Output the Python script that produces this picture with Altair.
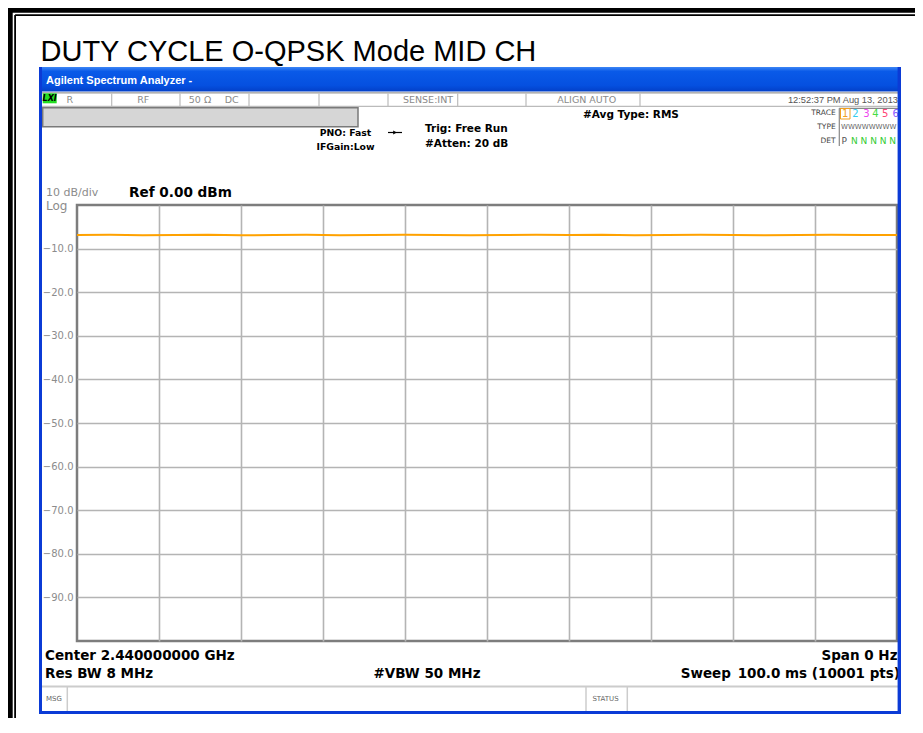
import altair as alt
import pandas as pd

# ---------------- data ----------------
title_text = "DUTY CYCLE O-QPSK Mode MID CH"
window_title = "Agilent Spectrum Analyzer -"
sweep_time_ms = [0, 4, 8, 12, 16, 20, 24, 28, 32, 36, 40, 44, 48, 52, 56, 60,
                 64, 68, 72, 76, 80, 84, 88, 92, 96, 100]
trace_dbm = [-6.9, -6.85, -6.95, -6.9, -6.8, -6.95, -6.9, -6.85, -6.95, -6.9,
             -6.85, -6.9, -6.95, -6.9, -6.85, -6.9, -6.8, -6.95, -6.9, -6.85,
             -6.9, -6.95, -6.9, -6.85, -6.9, -6.9]
y_ticks_dbm = [-10, -20, -30, -40, -50, -60, -70, -80, -90]
x_grid_ms = [10, 20, 30, 40, 50, 60, 70, 80, 90]
status_cells = ["R", "RF", "50 Ω", "DC", "SENSE:INT", "ALIGN AUTO"]
timestamp = "12:52:37 PM Aug 13, 2013"
settings_left = ["PNO: Fast", "IFGain:Low"]
settings_mid = ["Trig: Free Run", "#Atten: 20 dB"]
avg_type = "#Avg Type: RMS"
trace_labels = ["TRACE", "TYPE", "DET"]
trace_nums = ["1", "2", "3", "4", "5", "6"]
trace_num_colors = ["#f0a020", "#33ccee", "#ee44ee", "#44dd44", "#ff4477", "#8855ff"]
trace_type = "WWWWWWWW"
det_first = "P"
det_rest = "N N N N N"
scale_div = "10 dB/div"
scale_log = "Log"
ref_level = "Ref 0.00 dBm"
center_freq = "Center 2.440000000 GHz"
res_bw = "Res BW 8 MHz"
vbw = "#VBW 50 MHz"
span = "Span 0 Hz"
sweep_word = "Sweep"
sweep_val = "100.0 ms (10001 pts)"
msg_label = "MSG"
status_label = "STATUS"

# ---------------- helpers (page coords -> chart coords) ----------------
OX, OY = 77, 205
one = pd.DataFrame({"k": [0]})


def px(x):
    return x - OX


def py(y):
    return y - OY


def text(s, x, y, size=10, color="#000000", font="DejaVu Sans", weight="normal",
         align="left", baseline="alphabetic", style="normal"):
    return alt.Chart(one).mark_text(
        text=s, font=font, fontSize=size, fontWeight=weight, fontStyle=style,
        color=color, align=align, baseline=baseline
    ).encode(x=alt.value(px(x)), y=alt.value(py(y)))


def rect(x1, y1, x2, y2, fill, **kw):
    return alt.Chart(one).mark_rect(fill=fill, **kw).encode(
        x=alt.value(px(x1)), x2=alt.value(px(x2)),
        y=alt.value(py(y1)), y2=alt.value(py(y2)))


def line(x1, y1, x2, y2, color, width=1.0):
    return alt.Chart(one).mark_rule(color=color, strokeWidth=width).encode(
        x=alt.value(px(x1)), x2=alt.value(px(x2)),
        y=alt.value(py(y1)), y2=alt.value(py(y2)))


layers = []

# outer black document frame
layers += [
    rect(8, 8, 12.7, 718, "#000000"),
    rect(8, 8, 915, 12.7, "#000000"),
    line(15.1, 15.1, 15.1, 718, "#000000", 1.8),
    line(15.1, 15.1, 915, 15.1, "#000000", 1.8),
]

# document title
layers.append(text(title_text, 40.5, 61, size=29, font="Liberation Sans"))

# trace with graticule
trace_df = pd.DataFrame({"t": sweep_time_ms, "dbm": trace_dbm})
trace = alt.Chart(trace_df).mark_line(color="#ffa200", strokeWidth=2).encode(
    x=alt.X("t:Q", scale=alt.Scale(domain=[0, 100], nice=False),
            axis=alt.Axis(values=x_grid_ms, grid=True, labels=False, ticks=False,
                          domain=False, title="")),
    y=alt.Y("dbm:Q", scale=alt.Scale(domain=[-100, 0], nice=False, zero=False),
            axis=alt.Axis(values=y_ticks_dbm, format=".1f", grid=True, ticks=False,
                          domain=False, title="", labelFont="DejaVu Sans",
                          labelFontSize=10, labelColor="#8c8c8c", labelPadding=4)),
)
layers.append(trace)

# scale annotations
layers += [
    text(scale_div, 46, 195.5, size=11, color="#8c8c8c"),
    text(scale_log, 46, 209.5, size=12, color="#8c8c8c"),
    text(ref_level, 129, 197.3, size=13.6, weight="bold"),
]

# bottom annotations
layers += [
    text(center_freq, 45, 660, size=13.5, weight="bold"),
    text(res_bw, 45, 678, size=13.5, weight="bold"),
    text(vbw, 427, 678, size=13.5, weight="bold", align="center"),
    text(span, 897.5, 660, size=13.5, weight="bold", align="right"),
    text(sweep_word, 680.7, 678, size=13.5, weight="bold"),
    text(sweep_val, 900, 678, size=13.5, weight="bold", align="right"),
]

# bottom status bar
layers += [
    line(42, 686.5, 898, 686.5, "#cccccc", 2),
    line(67.3, 687, 67.3, 711, "#cccccc", 1.5),
    line(586, 687, 586, 711, "#cccccc", 1.5),
    line(627.3, 687, 627.3, 711, "#cccccc", 1.5),
    text(msg_label, 54, 698.5, size=7, color="#666666", align="center", baseline="middle"),
    text(status_label, 605.5, 698.5, size=7, color="#666666", align="center", baseline="middle"),
]

# header: status row
cell_x = [69.7, 143.3, 200, 231.7, 428, 586.7]
layers += [
    line(42, 92.8, 898, 92.8, "#999999", 1.2),
    line(42, 106.3, 898, 106.3, "#bbbbbb", 1.2),
    rect(42.7, 93.3, 56.7, 103.3, "#22dd22"),
    text("LXI", 49.7, 98.6, size=8, weight="bold", style="italic", align="center", baseline="middle"),
]
for sx in [111.7, 180, 249, 319, 388, 457.7, 526, 640]:
    layers.append(line(sx, 93.5, sx, 106, "#bbbbbb", 1.2))
for s, cx in zip(status_cells, cell_x):
    layers.append(text(s, cx, 99.5, size=9.5, color="#8a8a8a", align="center", baseline="middle"))
layers.append(text(timestamp, 898, 99.5, size=9.3, color="#555555", font="Liberation Sans",
                   align="right", baseline="middle"))

# header: progress bar and settings
layers += [
    rect(42.7, 107.7, 358, 126.7, "#d6d6d6", stroke="#7a7a7a", strokeWidth=1.5),
    text(settings_left[0], 345.5, 133, size=9.3, weight="bold", align="center", baseline="middle"),
    text(settings_left[1], 345.5, 146.5, size=9.3, weight="bold", align="center", baseline="middle"),
    line(388, 132.5, 402, 132.5, "#000000", 1.2),
    alt.Chart(one).mark_point(shape="triangle-right", filled=True, color="#000000", size=18, opacity=1).encode(
        x=alt.value(px(395)), y=alt.value(py(132.5))),
    text(settings_mid[0], 425, 129, size=10.5, weight="bold", align="left", baseline="middle"),
    text(settings_mid[1], 425, 143.5, size=10.5, weight="bold", align="left", baseline="middle"),
    text(avg_type, 583, 114.5, size=10.5, weight="bold", align="left", baseline="middle"),
]

# header: trace panel
trace_label_y = [113.3, 127.3, 140.7]
for s, ty in zip(trace_labels, trace_label_y):
    layers.append(text(s, 835.7, ty, size=7.5, color="#444444", align="right", baseline="middle"))
layers += [
    line(839.3, 108.3, 839.3, 146, "#888888", 1.2),
    line(839.3, 108.3, 898, 108.3, "#888888", 1.2),
    rect(840.5, 108.5, 850, 119, "transparent", stroke="#f0a020", strokeWidth=1),
]
num_x = [845.2, 855.5, 866.5, 875.5, 885.3, 895.8]
for s, nx, c in zip(trace_nums, num_x, trace_num_colors):
    layers.append(text(s, nx, 113.8, size=10, color=c, align="center", baseline="middle"))
layers += [
    text(trace_type, 841, 127.3, size=7, color="#666666", align="left", baseline="middle"),
    text(det_first, 841.5, 140.7, size=9, color="#555555", align="left", baseline="middle"),
    text(det_rest, 851, 140.7, size=9, color="#33cc33", align="left", baseline="middle"),
]

# analyzer window frame and title bar (drawn last)
title_grad = alt.Gradient(
    gradient="linear",
    stops=[alt.GradientStop(offset=0, color="#3d86f5"),
           alt.GradientStop(offset=0.18, color="#0a5ae8"),
           alt.GradientStop(offset=0.75, color="#0550e0"),
           alt.GradientStop(offset=1, color="#0340c8")],
    x1=0, x2=0, y1=0, y2=1)
layers += [
    rect(39, 67, 901, 91.5, title_grad),
    rect(39, 67, 42, 714, "#0b3bd6"),
    rect(897.6, 67, 901, 714, "#0b3bd6"),
    rect(39, 711, 901, 714, "#0b3bd6"),
    text(window_title, 46, 84, size=11, color="#ffffff", font="Liberation Sans", weight="bold"),
]

chart = alt.layer(*layers).properties(
    width=820, height=436,
    padding={"left": 69, "top": 197, "right": 18, "bottom": 77},
    autosize=alt.AutoSizeParams(type="none"),
    background="#ffffff",
).configure_view(stroke="#7d7d7d", strokeWidth=2.5).configure_axis(
    gridColor="#b4b4b4", gridWidth=1.6, gridOpacity=1
)

chart.save("out.html", embed_options={"renderer": "svg", "actions": False})
